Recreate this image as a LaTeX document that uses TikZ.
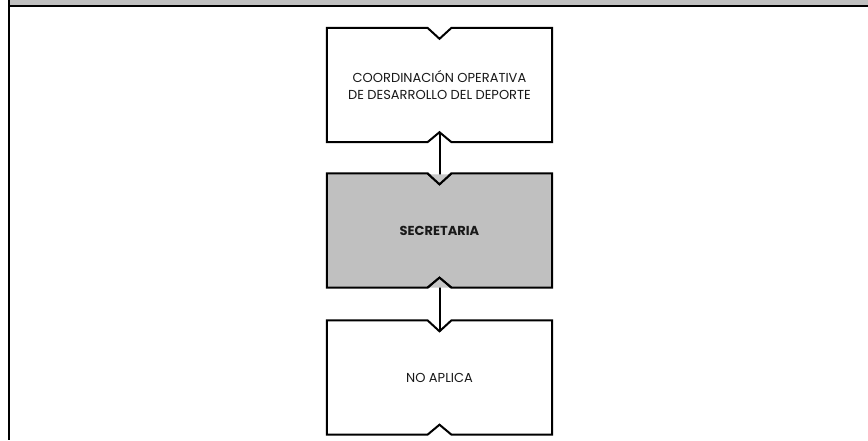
\documentclass[tikz,border=0pt]{standalone}
\usepackage{fontspec}
\setmainfont{Poppins}
\usetikzlibrary{arrows.meta,calc}
\definecolor{hdrgray}{HTML}{C0C0C0}
\definecolor{boxgray}{HTML}{C0C0C0}
\definecolor{tipgray}{HTML}{C8C8C8}
\tikzset{
  txt/.style={minimum width=225pt, minimum height=114pt, inner sep=0pt, align=center,
    font=\fontsize{13}{17.5}\selectfont, text=black!90},
  outline/.style={line width=2pt, draw=black, line join=miter},
  conn/.style={line width=2pt, draw=black, -{Triangle[length=10pt,width=19pt,fill=tipgray,color=tipgray]}},
}
\newcommand\notchedbox[2]{%
  \draw[outline, fill=#2] (#1.north west) -- ($(#1.north)+(-12,0)$) -- ($(#1.north)+(0,11)$)
    -- ($(#1.north)+(12,0)$) -- (#1.north east) -- (#1.south east)
    -- ($(#1.south)+(12,0)$) -- ($(#1.south)+(0,-10)$) -- ($(#1.south)+(-12,0)$)
    -- (#1.south west) -- cycle;}
\begin{document}
\begin{tikzpicture}[x=1pt,y=-1pt]
\useasboundingbox (0,0) rectangle (868,440);
% header and frame
\fill[hdrgray] (9,0) rectangle (868,6);
\draw[line width=2pt] (9,6.3) -- (868,6.3);
\draw[line width=2pt] (9,0) -- (9,440);
% boxes
\path (439.5,85) node[txt] (b1) {};
\path (439.5,230.5) node[txt] (b2) {};
\path (439.5,377.5) node[txt] (b3) {};
\coordinate (b1bot) at ($(b1.south)+(0,-10)$);
\coordinate (b2top) at ($(b2.north)+(0,11)$);
\coordinate (b2bot) at ($(b2.south)+(0,-10)$);
\coordinate (b3top) at ($(b3.north)+(0,11)$);
\notchedbox{b1}{white}
\notchedbox{b2}{boxgray}
\notchedbox{b3}{white}
\draw[conn] (b1bot) -- (b2top);
\draw[conn] (b3top) -- (b2bot);
\draw[outline] ($(b2.north)+(-12,0)$) -- (b2top) -- ($(b2.north)+(12,0)$);
\draw[outline] ($(b2.south)+(-12,0)$) -- (b2bot) -- ($(b2.south)+(12,0)$);
\node[txt] at (b1) {COORDINACIÓN OPERATIVA\\DE DESARROLLO DEL DEPORTE};
\node[txt, font=\fontsize{13}{17.5}\selectfont\bfseries] at (b2) {SECRETARIA};
\node[txt] at (b3) {NO APLICA};
\end{tikzpicture}
\end{document}
